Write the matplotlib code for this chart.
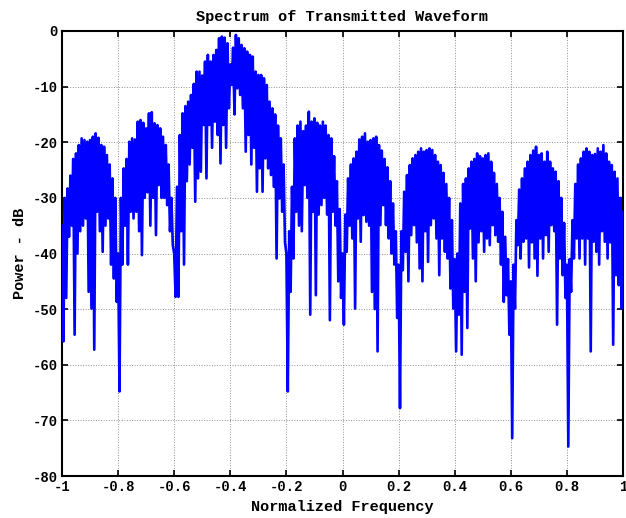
import numpy as np
import matplotlib
matplotlib.use('Agg')
import matplotlib.pyplot as plt
from matplotlib.ticker import FuncFormatter

plt.rcParams['font.family'] = ['Liberation Mono', 'DejaVu Sans Mono']

# DATA ###################################
# frequency grid of the spectrum, one top value per step and one low value half a step later
freq = np.round(np.linspace(-1, 1, 201), 3)

# top edge of the blue band (dB)
upper_db = [
    # -1.00 .. -0.81
    -35, -30, -28.3, -26, -23, -22, -20.5, -19.3, -19.6, -19.9,
    -19.6, -19, -18.4, -19.2, -20.5, -20.8, -22.3, -24, -26.5, -30,
    # -0.80 .. -0.61
    -40, -30, -24.7, -23, -19.9, -19.3, -19.5, -16.3, -16, -16.5,
    -17.5, -14.8, -14.6, -16.6, -16.9, -17.5, -19, -20.5, -24, -30,
    # -0.60 .. -0.21 (main lobe)
    -40, -28, -18.7, -14.8, -13.5, -12.7, -11.5, -9.5, -7.3, -7.3,
    -8, -5.5, -4.3, -5.5, -4.3, -3.4, -1.3, -1, -1.2, -2.2,
    -6, -3, -0.7, -1.3, -2.5, -3.1, -3.7, -4.3, -4.6, -7.3,
    -7.9, -7.9, -8.5, -9.7, -12.7, -13.9, -15, -17, -19.3, -24,
    # -0.20 .. -0.01
    -40, -36, -28, -19.3, -17, -16.3, -18, -17, -14.5, -16.3,
    -15.7, -16.5, -17, -16.3, -17, -18.7, -19.3, -22.5, -27, -32,
    # 0.00 .. 0.19
    -40, -33, -26.5, -24, -22.9, -21.7, -19.5, -19, -18.4, -19.9,
    -19.6, -19.3, -19, -20.5, -21.5, -23, -24.5, -27, -31, -36,
    # 0.20 .. 0.39
    -42, -36, -28.9, -25.9, -24.1, -22.9, -22.3, -21.7, -21.1, -21.7,
    -21.4, -21.1, -21.4, -22.3, -23.5, -24.1, -25.5, -27.5, -30, -34,
    # 0.40 .. 0.59
    -41, -40, -31, -27.5, -26.5, -24.7, -23.5, -23, -22, -22.5,
    -22.9, -22.3, -22, -23.5, -25.5, -27.5, -30, -32.5, -37, -41,
    # 0.60 .. 0.79
    -45, -42, -34, -28.5, -26.5, -24.7, -23.5, -22.3, -21.5, -20.8,
    -22.3, -22, -23.5, -21.7, -23.5, -24.7, -25.3, -27, -30, -34.5,
    # 0.80 .. 1.00
    -42, -41, -34, -27.5, -24, -22.9, -21.7, -21.1, -21.7, -22.3,
    -22.1, -21.1, -21.7, -20.5, -22, -23.5, -24.1, -25.3, -26.5, -30,
    -32.5,
]

# low points / downward spikes (dB), at freq + 0.005
lower_db = [
    # -0.995 .. -0.805
    -55.8, -48, -37, -35, -54.6, -40, -36, -35, -33.7, -46.9,
    -49.9, -57.3, -32.5, -36, -39.7, -35, -33.7, -42, -44.5, -48.7,
    # -0.795 .. -0.605
    -64.8, -42, -35, -42, -32.5, -33.7, -32.5, -36, -40.3, -30,
    -29, -35, -30, -36.7, -27.7, -30, -30, -31.3, -36, -38.5,
    # -0.595 .. -0.205 (main lobe)
    -47.8, -47.8, -36, -42, -27, -24, -21, -30.7, -26.5, -25.3,
    -16.9, -26.5, -16.9, -21, -16.3, -18.7, -23.8, -16.9, -21, -13.9,
    -9.7, -15, -10.3, -11.5, -13.9, -21.7, -18.7, -24, -21, -28.9,
    -24.7, -28.9, -22.9, -24.7, -25.9, -28, -40.9, -30.1, -32.5, -38,
    # -0.195 .. -0.005
    -64.8, -46.9, -40.9, -32.5, -35, -36, -27.7, -30, -51, -32.5,
    -47.5, -33, -31.3, -30, -33, -52, -32.5, -35, -45, -48,
    # 0.005 .. 0.195
    -52.8, -39.7, -35, -37.3, -49.9, -33.7, -37.9, -33.1, -34.3, -35,
    -46.9, -50, -57.6, -34.9, -31.3, -34.9, -37.3, -40, -42, -51.6,
    # 0.205 .. 0.395
    -67.8, -43, -39.7, -45, -36.7, -34.9, -38, -42.7, -45, -36,
    -41.5, -34.9, -33.7, -37.3, -43.9, -37.3, -39.7, -40.9, -46.3, -49.9,
    # 0.405 .. 0.595
    -57.6, -51, -58.2, -46.9, -53.4, -35.5, -40.9, -45, -38, -36,
    -39.7, -37.3, -38.5, -34.9, -36.7, -37.9, -42, -48.7, -47.5, -54.6,
    # 0.605 .. 0.795
    -73.2, -49.9, -38.5, -40.9, -37.9, -37.3, -42.5, -38, -40.9, -44,
    -37.3, -40.9, -36.7, -39.7, -34.9, -36, -52.8, -40.9, -43.9, -48,
    # 0.805 .. 0.995
    -74.7, -46.9, -40.9, -37.3, -40.9, -37.3, -42, -37.3, -57.6, -37.9,
    -39.7, -42, -36, -37.9, -40.9, -38, -56.4, -43.9, -45.7, -49.9,
]

x_ticks = [-1, -0.8, -0.6, -0.4, -0.2, 0, 0.2, 0.4, 0.6, 0.8, 1]
y_ticks = [0, -10, -20, -30, -40, -50, -60, -70, -80]

# interleave top and low points into one trace
x = np.empty(len(upper_db) + len(lower_db))
y = np.empty_like(x)
x[0::2] = freq
y[0::2] = upper_db
x[1::2] = freq[:-1] + 0.005
y[1::2] = lower_db

# PLOT ###################################
fig = plt.figure(figsize=(6.26, 5.18), dpi=100)
ax = fig.add_axes([62 / 626, 42 / 518, 561 / 626, 445 / 518])

ax.plot(x, y, color='#0000ff', linewidth=1.9, zorder=3)

ax.set_xlim(-1, 1)
ax.set_ylim(-80, 0)
ax.set_xticks(x_ticks)
ax.set_yticks(y_ticks)
fmt = FuncFormatter(lambda v, p: '%g' % v)
ax.xaxis.set_major_formatter(fmt)
ax.yaxis.set_major_formatter(fmt)

ax.grid(True, linestyle=':', color='#909090', linewidth=0.7, zorder=0)
ax.tick_params(direction='in', top=True, right=True, length=4, width=1.2,
               labelsize=10, pad=3)
for lab in ax.get_xticklabels() + ax.get_yticklabels():
    lab.set_fontweight('bold')
for s in ax.spines.values():
    s.set_linewidth(1.5)

ax.set_title('Spectrum of Transmitted Waveform', fontsize=11, fontweight='bold', pad=7)
ax.set_xlabel('Normalized Frequency', fontsize=11, fontweight='bold', labelpad=4)
ax.set_ylabel('Power - dB', fontsize=11, fontweight='bold', labelpad=4)

fig.savefig('out.png', dpi=100)
